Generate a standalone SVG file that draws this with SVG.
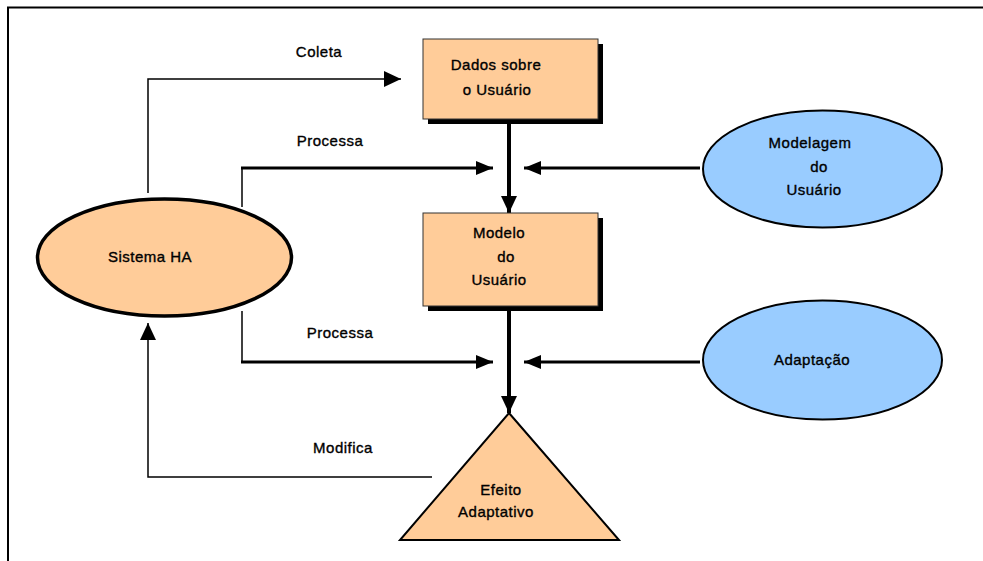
<svg xmlns="http://www.w3.org/2000/svg" width="983" height="561" viewBox="0 0 983 561">
  <style>
    text { font-family: "Liberation Sans", Arial, sans-serif; font-size: 15px; fill: #000; stroke: #000; stroke-width: 0.35px; letter-spacing: 0.5px; text-anchor: middle; }
    .blue { fill: #99CCFF; stroke: #000; stroke-width: 2; }
    .shadow { fill: #000; }
    .box { fill: #FFCC99; stroke: #333; stroke-width: 1; }
    .thin { fill: none; stroke: #000; stroke-width: 1.5; }
    .thick { fill: none; stroke: #000; stroke-width: 3; }
    .bold { fill: none; stroke: #000; stroke-width: 4; }
  </style>
  <defs>
    <marker id="arr" markerUnits="userSpaceOnUse" markerWidth="18" markerHeight="16" refX="17" refY="8" orient="auto">
      <path d="M0,0 L17,8 L0,16 Z" fill="#000"/>
    </marker>
    <marker id="arrS" markerUnits="userSpaceOnUse" markerWidth="18" markerHeight="14" refX="17" refY="7" orient="auto">
      <path d="M0,0 L17,7 L0,14 Z" fill="#000"/>
    </marker>
  </defs>

  <rect width="983" height="561" fill="#fff"/>

  <!-- frame -->
  <path d="M8,561 V7.5 H983" fill="none" stroke="#000" stroke-width="2"/>

  <!-- connectors -->
  <g id="connectors">
    <path class="thin" d="M148,193 V79 H401" marker-end="url(#arr)"/>
    <path class="thin" d="M242,207 V168"/>
    <path class="thick" d="M241,168 H493" marker-end="url(#arrS)"/>
    <path class="thin" d="M242,311 V362"/>
    <path class="thick" d="M241,362 H493" marker-end="url(#arrS)"/>
    <path class="thick" d="M700,168 H524" marker-end="url(#arrS)"/>
    <path class="thick" d="M700,362 H524" marker-end="url(#arrS)"/>
    <path class="bold" d="M509,122 V213" marker-end="url(#arr)"/>
    <path class="bold" d="M509,311 V413" marker-end="url(#arr)"/>
    <path class="thin" d="M432,477 H148 V323" marker-end="url(#arr)"/>
    <text x="319" y="57">Coleta</text>
    <text x="330" y="146">Processa</text>
    <text x="340" y="338">Processa</text>
    <text x="343" y="453">Modifica</text>
  </g>

  <!-- nodes -->
  <g id="dados">
    <rect class="shadow" x="428" y="44" width="175" height="80"/>
    <rect class="box" x="423" y="39" width="175" height="80"/>
    <text x="496" y="70">Dados sobre</text>
    <text x="497" y="95">o Usuário</text>
  </g>

  <g id="modelo">
    <rect class="shadow" x="428" y="218" width="175" height="93"/>
    <rect class="box" x="423" y="213" width="175" height="93"/>
    <text x="499" y="238">Modelo</text>
    <text x="506" y="262">do</text>
    <text x="499" y="285">Usuário</text>
  </g>

  <g id="efeito">
    <polygon points="509,413 619,540 400,540" fill="#FFCC99" stroke="#000" stroke-width="2" stroke-linejoin="miter"/>
    <text x="501" y="495">Efeito</text>
    <text x="496" y="517">Adaptativo</text>
  </g>

  <g id="sistema">
    <ellipse cx="164.5" cy="257.5" rx="127" ry="58.5" fill="#FFCC99" stroke="#000" stroke-width="3.5"/>
    <text x="150" y="262">Sistema HA</text>
  </g>

  <g id="modelagem">
    <ellipse class="blue" cx="822.5" cy="169" rx="119.5" ry="58.5"/>
    <text x="810" y="148">Modelagem</text>
    <text x="819" y="172">do</text>
    <text x="814" y="195">Usuário</text>
  </g>

  <g id="adaptacao">
    <ellipse class="blue" cx="822.5" cy="360" rx="119.5" ry="59.5"/>
    <text x="812" y="365">Adaptação</text>
  </g>
</svg>
